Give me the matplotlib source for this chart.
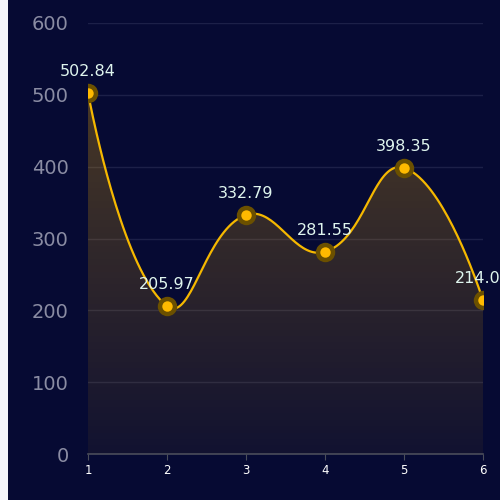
import numpy as np
import matplotlib
matplotlib.use('Agg')
import matplotlib.pyplot as plt
from matplotlib.patches import Rectangle, Polygon
from matplotlib.colors import LinearSegmentedColormap

x_vals = [1, 2, 3, 4, 5, 6]
y_vals = [502.84, 205.97, 332.79, 281.55, 398.35, 214.03]
y_ticks = [0, 100, 200, 300, 400, 500, 600]

BG = '#060a33'
LINE = '#f5b800'


def smooth_curve(ax, xs, ys, smooth=0.45, n=40):
    """Bezier smoothing in display space, like echarts smooth lines."""
    pts = ax.transData.transform(np.column_stack([xs, ys]))
    out = []
    m = len(pts)
    cps = []
    for i in range(m):
        if i == 0 or i == m - 1:
            cps.append((pts[i], pts[i]))
            continue
        prev, cur, nxt = pts[i - 1], pts[i], pts[i + 1]
        v = nxt - prev
        d0 = np.hypot(*(cur - prev))
        d1 = np.hypot(*(nxt - cur))
        cps.append((cur - v * smooth * d0 / (d0 + d1),
                    cur + v * smooth * d1 / (d0 + d1)))
    for i in range(m - 1):
        p0, p3 = pts[i], pts[i + 1]
        c1, c2 = cps[i][1], cps[i + 1][0]
        t = np.linspace(0, 1, n)[:, None]
        seg = ((1 - t) ** 3 * p0 + 3 * (1 - t) ** 2 * t * c1
               + 3 * (1 - t) * t ** 2 * c2 + t ** 3 * p3)
        out.append(seg if i == 0 else seg[1:])
    out = np.vstack(out)
    return ax.transData.inverted().transform(out)


fig = plt.figure(figsize=(5, 5), dpi=100, facecolor=BG)
fig.patches.append(Rectangle((0, 0), 8 / 500, 1, transform=fig.transFigure,
                             facecolor='#f4f5f9', edgecolor='none'))
ax = fig.add_axes([0.176, 0.092, 0.79, 0.862])
ax.set_facecolor(BG)
ax.set_xlim(1, 6)
ax.set_ylim(0, 600)

curve = smooth_curve(ax, x_vals, y_vals)

# gradient fill under the curve
cmap = LinearSegmentedColormap.from_list(
    'fill', [(0, (1.0, 0.72, 0.0, 0.05)), (1, (1.0, 0.72, 0.0, 0.27))])
grad = np.linspace(0, 1, 256)[:, None]
im = ax.imshow(grad, cmap=cmap, aspect='auto', origin='lower',
               extent=[1, 6, 0, max(y_vals)], zorder=1)
poly = Polygon(np.vstack([[[1, 0]], curve, [[6, 0]]]), closed=True,
               facecolor='none', edgecolor='none')
ax.add_patch(poly)
im.set_clip_path(poly)

ax.plot(curve[:, 0], curve[:, 1], color=LINE, lw=1.6, zorder=3,
        solid_capstyle='round')
ax.plot(x_vals, y_vals, 'o', ms=14, color='#6b5000', mec='none', zorder=4)
ax.plot(x_vals, y_vals, 'o', ms=7.5, color='#ffba00', mec='none', zorder=5)

for xv, yv in zip(x_vals, y_vals):
    ax.annotate(f'{yv:.2f}', (xv, yv), xytext=(0, 10), textcoords='offset points',
                ha='center', va='bottom', color='#dff5ee', fontsize=11.5,
                annotation_clip=False, zorder=6)

ax.set_yticks(y_ticks)
ax.set_xticks(x_vals)
ax.grid(axis='y', color='#1c2048', lw=1)
ax.set_axisbelow(True)
for s in ['top', 'right', 'left']:
    ax.spines[s].set_visible(False)
ax.spines['bottom'].set_color('#4a4d5a')
ax.spines['bottom'].set_linewidth(1.2)
ax.tick_params(axis='y', length=0, pad=14, labelsize=14, labelcolor='#8a8ca3')
ax.tick_params(axis='x', length=4, color='#4a4d5a', labelsize=8.5,
               labelcolor='white', pad=3)

fig.savefig('out.png', dpi=100, facecolor=BG)
